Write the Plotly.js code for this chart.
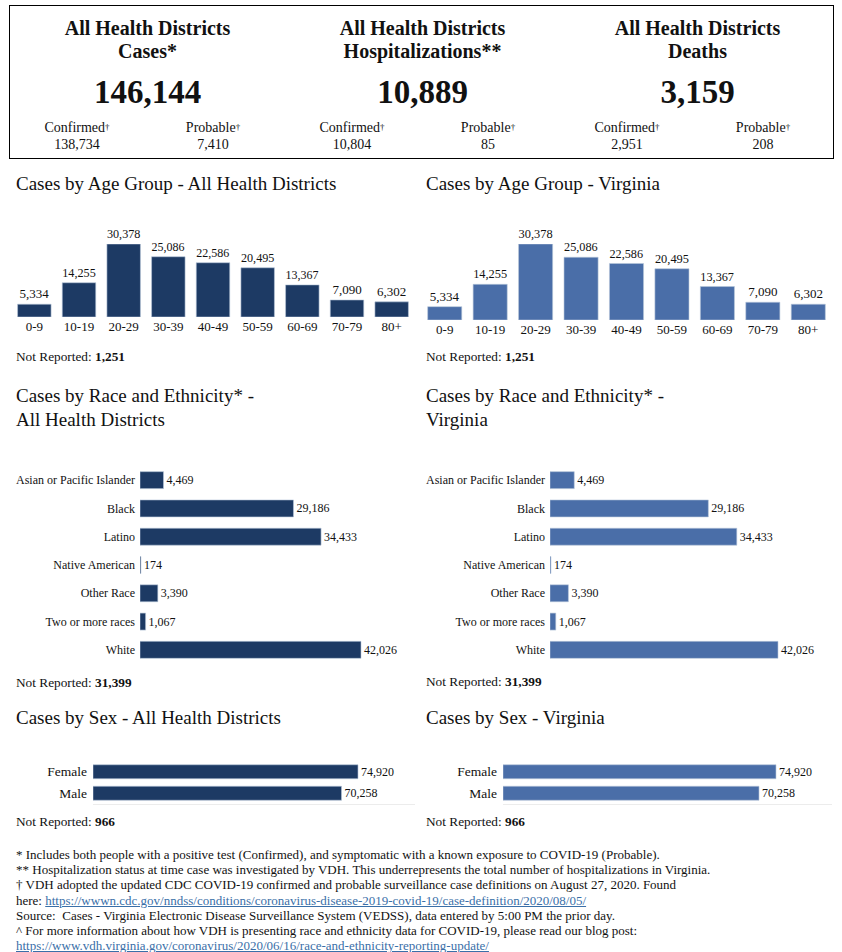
<!DOCTYPE html>
<html>
<head>
<meta charset="utf-8">
<script src="https://cdn.plot.ly/plotly-3.0.1.min.js"></script>
<style>
  html, body { margin:0; padding:0; background:#fff; }
  body { width:842px; height:952px; position:relative; overflow:hidden; font-family:"Liberation Serif","Times New Roman",serif; color:#111; }
  .abs { position:absolute; }
  .box { left:9px; top:5px; width:825px; height:154px; border:1px solid #000; box-sizing:border-box; }
  .col { position:absolute; top:0; width:275px; height:152px; text-align:center; }
  .ctitle { position:absolute; left:0; width:275px; top:11px; font-weight:bold; font-size:20px; line-height:23px; }
  .cbig { position:absolute; left:0; width:275px; top:67px; font-weight:bold; font-size:33px; line-height:38px; }
  .sub { position:absolute; width:130px; font-size:14px; line-height:18px; text-align:center; }
  .title { font-size:19px; line-height:24px; white-space:nowrap; }
  .nr { font-size:13.3px; line-height:16px; white-space:nowrap; }
  .foot { left:16px; top:847px; font-size:13px; line-height:15.2px; white-space:nowrap; }
  .foot a { color:#3a6fa8; text-decoration:underline; }
  .plot { position:absolute; }
</style>
</head>
<body>
<div class="abs box" id="box"></div>

<div class="abs title" style="left:16px; top:172px;">Cases by Age Group - All Health Districts</div>
<div class="abs title" style="left:426px; top:172px;">Cases by Age Group - Virginia</div>
<div class="abs nr" style="left:16px; top:349px;">Not Reported: <b id="nrAgeL"></b></div>
<div class="abs nr" style="left:426px; top:349px;">Not Reported: <b id="nrAgeR"></b></div>

<div class="abs title" style="left:16px; top:384px;">Cases by Race and Ethnicity* -<br>All Health Districts</div>
<div class="abs title" style="left:426px; top:384px;">Cases by Race and Ethnicity* -<br>Virginia</div>
<div class="abs nr" style="left:16px; top:675px;">Not Reported: <b id="nrRaceL"></b></div>
<div class="abs nr" style="left:426px; top:674px;">Not Reported: <b id="nrRaceR"></b></div>

<div class="abs title" style="left:16px; top:706px;">Cases by Sex - All Health Districts</div>
<div class="abs title" style="left:426px; top:706px;">Cases by Sex - Virginia</div>
<div class="abs nr" style="left:16px; top:814px;">Not Reported: <b id="nrSexL"></b></div>
<div class="abs nr" style="left:426px; top:814px;">Not Reported: <b id="nrSexR"></b></div>

<div class="abs foot">
* Includes both people with a positive test (Confirmed), and symptomatic with a known exposure to COVID-19 (Probable).<br>
** Hospitalization status at time case was investigated by VDH. This underrepresents the total number of hospitalizations in Virginia.<br>
† VDH adopted the updated CDC COVID-19 confirmed and probable surveillance case definitions on August 27, 2020. Found<br>
here: <a>https://wwwn.cdc.gov/nndss/conditions/coronavirus-disease-2019-covid-19/case-definition/2020/08/05/</a><br>
Source:&nbsp; Cases - Virginia Electronic Disease Surveillance System (VEDSS), data entered by 5:00 PM the prior day.<br>
^ For more information about how VDH is presenting race and ethnicity data for COVID-19, please read our blog post:<br>
<a>https://www.vdh.virginia.gov/coronavirus/2020/06/16/race-and-ethnicity-reporting-update/</a>
</div>

<div class="plot" id="ageL" style="left:12px; top:220px; width:402px; height:119px;"></div>
<div class="plot" id="ageR" style="left:422px; top:220px; width:409px; height:122px;"></div>
<div class="plot" id="raceL" style="left:0px; top:456px; width:420px; height:218px;"></div>
<div class="plot" id="raceR" style="left:420px; top:456px; width:422px; height:218px;"></div>
<div class="plot" id="sexL" style="left:0px; top:756px; width:420px; height:54px;"></div>
<div class="plot" id="sexR" style="left:420px; top:756px; width:422px; height:54px;"></div>

<script>
// ---- data ----
const summaryLine1 = ['All Health Districts', 'All Health Districts', 'All Health Districts'];
const summaryLine2 = ['Cases*', 'Hospitalizations**', 'Deaths'];
const summaryTotals = [146144, 10889, 3159];
const summaryConfirmed = [138734, 10804, 2951];
const summaryProbable = [7410, 85, 208];

const ageGroups = ['0-9', '10-19', '20-29', '30-39', '40-49', '50-59', '60-69', '70-79', '80+'];
const ageCases = [5334, 14255, 30378, 25086, 22586, 20495, 13367, 7090, 6302];
const ageNotReported = 1251;

const raceGroups = ['Asian or Pacific Islander', 'Black', 'Latino', 'Native American', 'Other Race', 'Two or more races', 'White'];
const raceCases = [4469, 29186, 34433, 174, 3390, 1067, 42026];
const raceNotReported = 31399;

const sexGroups = ['Female', 'Male'];
const sexCases = [74920, 70258];
const sexNotReported = 966;

const darkBlue = '#1d3a64';
const lightBlue = '#4a6ea8';
const fontFam = '"Liberation Serif", "Times New Roman", serif';

// ---- summary box ----
const fmt = n => n.toLocaleString('en-US');
const box = document.getElementById('box');
for (let i = 0; i < 3; i++) {
  const c = document.createElement('div');
  c.className = 'col';
  c.style.left = (i * 275) + 'px';
  c.innerHTML =
    '<div class="ctitle">' + summaryLine1[i] + '<br>' + summaryLine2[i] + '</div>' +
    '<div class="cbig">' + fmt(summaryTotals[i]) + '</div>' +
    '<div class="sub" style="left:' + (137 - 70 - 65) + 'px; top:112px;">Confirmed<span style="font-size:9px;vertical-align:2px">†</span></div>' +
    '<div class="sub" style="left:' + (137 + 66 - 65) + 'px; top:112px;">Probable<span style="font-size:9px;vertical-align:2px">†</span></div>' +
    '<div class="sub" style="left:' + (137 - 70 - 65) + 'px; top:130px;">' + fmt(summaryConfirmed[i]) + '</div>' +
    '<div class="sub" style="left:' + (137 + 66 - 65) + 'px; top:130px;">' + fmt(summaryProbable[i]) + '</div>';
  box.appendChild(c);
}
document.getElementById('nrAgeL').textContent = fmt(ageNotReported);
document.getElementById('nrAgeR').textContent = fmt(ageNotReported);
document.getElementById('nrRaceL').textContent = fmt(raceNotReported);
document.getElementById('nrRaceR').textContent = fmt(raceNotReported);
document.getElementById('nrSexL').textContent = fmt(sexNotReported);
document.getElementById('nrSexR').textContent = fmt(sexNotReported);

const cfg = { staticPlot: true, displayModeBar: false };

// ---- age charts ----
function ageChart(id, color, plotH) {
  Plotly.newPlot(id, [{
    type: 'bar', x: ageGroups, y: ageCases,
    marker: { color: color, line: { color: '#b9c7da', width: 0.6 } },
    texttemplate: '%{y:,}', textposition: 'outside', cliponaxis: false,
    textfont: { family: fontFam, size: 13, color: '#111' },
    hoverinfo: 'none'
  }], {
    margin: { l: 0, r: 0, t: 24, b: document.getElementById(id).clientHeight - 24 - plotH },
    paper_bgcolor: 'rgba(0,0,0,0)', plot_bgcolor: 'rgba(0,0,0,0)',
    showlegend: false, bargap: 0.25,
    font: { family: fontFam, color: '#111' },
    xaxis: { type: 'category', showgrid: false, zeroline: false, showline: false, ticks: '', tickfont: { size: 13, family: fontFam, color: '#111' }, fixedrange: true },
    yaxis: { visible: false, range: [0, 30378], showgrid: false, zeroline: false, fixedrange: true }
  }, cfg);
}
ageChart('ageL', darkBlue, 73);
ageChart('ageR', lightBlue, 76);

// ---- race charts ----
function raceChart(id, color, l, r, xmax) {
  Plotly.newPlot(id, [{
    type: 'bar', orientation: 'h', y: raceGroups, x: raceCases,
    marker: { color: color, line: { color: '#b9c7da', width: 0.6 } },
    texttemplate: '%{x:,}', textposition: 'outside', cliponaxis: false,
    textfont: { family: fontFam, size: 12, color: '#111' },
    hoverinfo: 'none'
  }], {
    margin: { l: l, r: r, t: 10, b: 10 },
    paper_bgcolor: 'rgba(0,0,0,0)', plot_bgcolor: 'rgba(0,0,0,0)',
    showlegend: false, bargap: 0.4,
    font: { family: fontFam, color: '#111' },
    yaxis: { type: 'category', autorange: 'reversed', showgrid: false, zeroline: false, showline: false, ticks: '', ticklabelstandoff: 4, tickfont: { size: 12, family: fontFam, color: '#111' }, fixedrange: true },
    xaxis: { visible: false, range: [0, xmax], showgrid: false, zeroline: false, fixedrange: true }
  }, cfg);
}
raceChart('raceL', darkBlue, 140, 0, 53245);
raceChart('raceR', lightBlue, 130, 12, 51611);

// ---- sex charts ----
function sexChart(id, color, l, r, xmax) {
  Plotly.newPlot(id, [{
    type: 'bar', orientation: 'h', y: sexGroups, x: sexCases,
    marker: { color: color, line: { color: '#b9c7da', width: 0.6 } },
    texttemplate: '%{x:,}', textposition: 'outside', cliponaxis: false,
    textfont: { family: fontFam, size: 12, color: '#111' },
    hoverinfo: 'none'
  }], {
    margin: { l: l, r: r, t: 5, b: 6 },
    paper_bgcolor: 'rgba(0,0,0,0)', plot_bgcolor: 'rgba(0,0,0,0)',
    showlegend: false, bargap: 0.35,
    font: { family: fontFam, color: '#111' },
    yaxis: { type: 'category', autorange: 'reversed', showgrid: false, zeroline: false, showline: false, ticks: '', ticklabelstandoff: 5, tickfont: { size: 13.5, family: fontFam, color: '#111' }, fixedrange: true },
    xaxis: { range: [0, xmax], showgrid: false, zeroline: false, showline: true, linecolor: '#ececec', linewidth: 1, showticklabels: false, ticks: '', fixedrange: true }
  }, cfg);
}
sexChart('sexL', darkBlue, 93, 5, 91032);
sexChart('sexR', lightBlue, 83, 10, 90290);
</script>
</body>
</html>
